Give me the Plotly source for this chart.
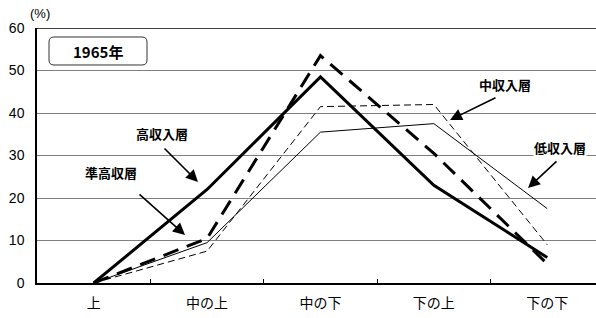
import plotly.graph_objects as go

categories = ["上", "中の上", "中の下", "下の上", "下の下"]
high = [0, 22, 48.5, 23, 6]          # 高収入層
semi_high = [0, 10.5, 53.5, 30.5, 4.5]  # 準高収層
middle = [0, 7.5, 41.5, 42, 9]       # 中収入層
low = [0, 9.5, 35.5, 37.5, 17.5]     # 低収入層
y_ticks = [0, 10, 20, 30, 40, 50, 60]

W, H = 596, 318
L, R, T, B = 37, 0, 28, 35
pw, ph = W - L - R, H - T - B

def px(x):
    return (x - L) / pw

def py(y):
    return (H - B - y) / ph

fig = go.Figure()
fig.add_trace(go.Scatter(x=categories, y=low, mode="lines",
                         line=dict(color="black", width=1), name="低収入層"))
fig.add_trace(go.Scatter(x=categories, y=middle, mode="lines",
                         line=dict(color="black", width=1, dash="7px,4px"), name="中収入層"))
fig.add_trace(go.Scatter(x=categories, y=semi_high, mode="lines",
                         line=dict(color="black", width=3, dash="16px,9px"), name="準高収層"))
fig.add_trace(go.Scatter(x=categories, y=high, mode="lines",
                         line=dict(color="black", width=3), name="高収入層"))

base_font = "Liberation Sans, Arial, sans-serif"
cjk = "Noto Sans CJK JP, sans-serif"

annotations = []
labels = [
    ("高収入層", 162, 133, 198, 182, -35, -35),
    ("準高収層", 111, 172, 185, 235, -47, -42),
    ("中収入層", 505, 84, 450, 120, 47, -23),
    ("低収入層", 560, 147, 528, 188, 30, -28),
]
for text, tx, ty, hx, hy, ax, ay in labels:
    annotations.append(dict(text="<b>%s</b>" % text, x=px(tx), y=py(ty), xref="paper", yref="paper",
                            showarrow=False, xanchor="center", yanchor="middle",
                            font=dict(family=cjk, size=13, color="black"),
                            bgcolor="white", borderpad=0))
    annotations.append(dict(text="", x=px(hx), y=py(hy), xref="paper", yref="paper",
                            ax=ax, ay=ay, axref="pixel", ayref="pixel",
                            showarrow=True, arrowhead=2, arrowsize=1.5, arrowwidth=1.6,
                            arrowcolor="black"))

annotations.append(dict(text="<b>1965年</b>", x=px(98), y=py(51), xref="paper", yref="paper",
                        showarrow=False, xanchor="center", yanchor="middle",
                        font=dict(family=cjk, size=15, color="black")))
annotations.append(dict(text="(%)", x=px(40), y=py(14), xref="paper", yref="paper",
                        showarrow=False, xanchor="center", yanchor="middle",
                        font=dict(family=base_font, size=13, color="black")))

# rounded box around the year label
x0, x1, y0, y1, r = 49, 147, 37, 65, 5
def P(x, y):
    return "%f,%f" % (px(x), py(y))
path = ("M " + P(x0 + r, y0) + " L " + P(x1 - r, y0) + " Q " + P(x1, y0) + " " + P(x1, y0 + r) +
        " L " + P(x1, y1 - r) + " Q " + P(x1, y1) + " " + P(x1 - r, y1) +
        " L " + P(x0 + r, y1) + " Q " + P(x0, y1) + " " + P(x0, y1 - r) +
        " L " + P(x0, y0 + r) + " Q " + P(x0, y0) + " " + P(x0 + r, y0) + " Z")

shapes = [
    dict(type="path", path=path, xref="paper", yref="paper",
         line=dict(color="#333333", width=1), fillcolor="white", layer="above"),
    dict(type="line", xref="paper", yref="y", x0=0, x1=1, y0=60, y1=60,
         line=dict(color="black", width=1.5)),
]

fig.update_layout(
    width=W, height=H,
    margin=dict(l=L, r=R, t=T, b=B, pad=0),
    paper_bgcolor="white", plot_bgcolor="white",
    showlegend=False,
    font=dict(family=base_font, size=13, color="black"),
    annotations=annotations,
    shapes=shapes,
    xaxis=dict(type="category", range=[-0.5, 4.43], showgrid=False, automargin=False,
               showline=True, linecolor="black", linewidth=1.5,
               ticks="inside", ticklen=4, tickcolor="black", tickson="boundaries",
               tickfont=dict(family=cjk, size=14, color="black"), zeroline=False,
               ticklabelstandoff=6),
    yaxis=dict(range=[0, 60], tickvals=y_ticks, showgrid=True, gridcolor="#808080", gridwidth=1,
               automargin=False,
               showline=True, linecolor="black", linewidth=1.5, ticks="", zeroline=False,
               tickfont=dict(family=base_font, size=14, color="black"), ticklabelstandoff=8),
)

fig.write_html("out.html", config={"displayModeBar": False},
               post_script="document.body.style.margin='0';")
